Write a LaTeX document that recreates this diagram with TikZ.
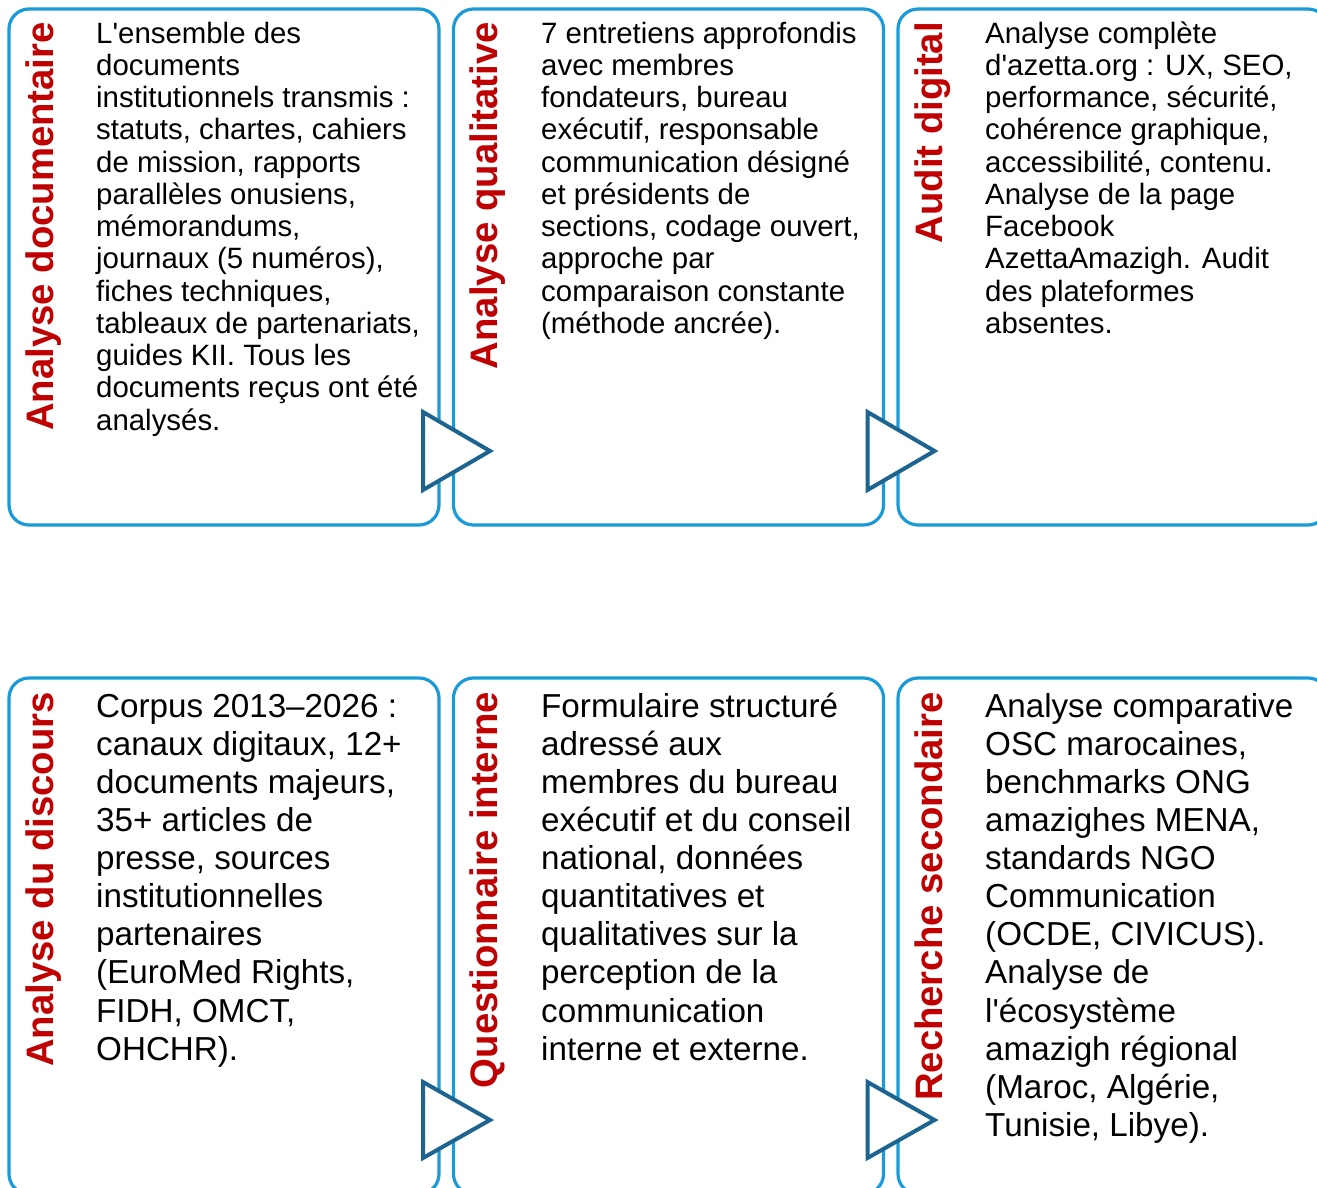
\documentclass[tikz,border=0pt]{standalone}
\usepackage{fontspec}
\newfontfamily\bodyfont{Liberation Sans}
\setmainfont{Liberation Sans}
\definecolor{boxblue}{HTML}{1A9BD7}
\definecolor{tridark}{HTML}{1D6590}
\definecolor{titlered}{HTML}{C00000}
\begin{document}
\begin{tikzpicture}[x=1pt,y=-1pt,
  box/.style={draw=boxblue, line width=3.2pt, rounded corners=20pt, fill=none,
    minimum width=430pt, minimum height=516pt, inner sep=0pt},
  tri/.style={draw=tridark, line width=4pt, fill=white, line join=miter},
  title/.style={rotate=90, anchor=base east, inner sep=0pt, text=titlered,
    font=\bodyfont\bfseries\fontsize{38.3}{44}\selectfont},
  bodytop/.style={anchor=north west, inner sep=0pt, align=left,
    font=\bodyfont\fontsize{29.4}{32.25}\selectfont},
  bodybot/.style={anchor=north west, inner sep=0pt, align=left,
    font=\bodyfont\fontsize{33.2}{38.1}\selectfont}]
\useasboundingbox (0,0) rectangle (1317,1188);
\clip (0,0) rectangle (1317,1188);
% boxes
\node[box] (b1) at (224,267) {};
\node[box] (b2) at (668.5,267) {};
\node[box] (b3) at (1113,267) {};
\node[box] (b4) at (224,936) {};
\node[box] (b5) at (668.5,936) {};
\node[box] (b6) at (1113,936) {};
% triangles
\draw[tri] (423,412) -- (423,490) -- (490,451) -- cycle;
\draw[tri] (867.5,412) -- (867.5,490) -- (934.5,451) -- cycle;
\draw[tri] (423,1082) -- (423,1158) -- (490,1120) -- cycle;
\draw[tri] (867.5,1082) -- (867.5,1158) -- (934.5,1120) -- cycle;
% titles
\node[title] (h1) at (53,22) {Analyse documentaire};
\node[title] (h2) at (497.5,22) {Analyse qualitative};
\node[title] (h3) at (942,22) {Audit digital};
\node[title] (h4) at (53,692) {Analyse du discours};
\node[title] (h5) at (497.5,692) {Questionnaire interne};
\node[title] (h6) at (942,692) {Recherche secondaire};
% body texts
\node[bodytop] (t1) at (96,21) {\rule{0pt}{22pt}L'ensemble des\\documents\\institutionnels transmis :\\statuts, chartes, cahiers\\de mission, rapports\\parallèles onusiens,\\mémorandums,\\journaux (5 numéros),\\fiches techniques,\\tableaux de partenariats,\\guides KII. Tous les\\documents reçus ont été\\analysés.};
\node[bodytop] (t2) at (541,21) {\rule{0pt}{22pt}7 entretiens approfondis\\avec membres\\fondateurs, bureau\\exécutif, responsable\\communication désigné\\et présidents de\\sections, codage ouvert,\\approche par\\comparaison constante\\(méthode ancrée).};
\node[bodytop] (t3) at (985,21) {\rule{0pt}{22pt}Analyse complète\\d'azetta.org : UX, SEO,\\performance, sécurité,\\cohérence graphique,\\accessibilité, contenu.\\Analyse de la page\\Facebook\\AzettaAmazigh. Audit\\des plateformes\\absentes.};
\node[bodybot] (t4) at (96,692) {\rule{0pt}{25pt}Corpus 2013–2026 :\\canaux digitaux, 12+\\documents majeurs,\\35+ articles de\\presse, sources\\institutionnelles\\partenaires\\(EuroMed Rights,\\FIDH, OMCT,\\OHCHR).};
\node[bodybot] (t5) at (541,692) {\rule{0pt}{25pt}Formulaire structuré\\adressé aux\\membres du bureau\\exécutif et du conseil\\national, données\\quantitatives et\\qualitatives sur la\\perception de la\\communication\\interne et externe.};
\node[bodybot] (t6) at (985,692) {\rule{0pt}{25pt}Analyse comparative\\OSC marocaines,\\benchmarks ONG\\amazighes MENA,\\standards NGO\\Communication\\(OCDE, CIVICUS).\\Analyse de\\l'écosystème\\amazigh régional\\(Maroc, Algérie,\\Tunisie, Libye).};
\end{tikzpicture}
\end{document}
